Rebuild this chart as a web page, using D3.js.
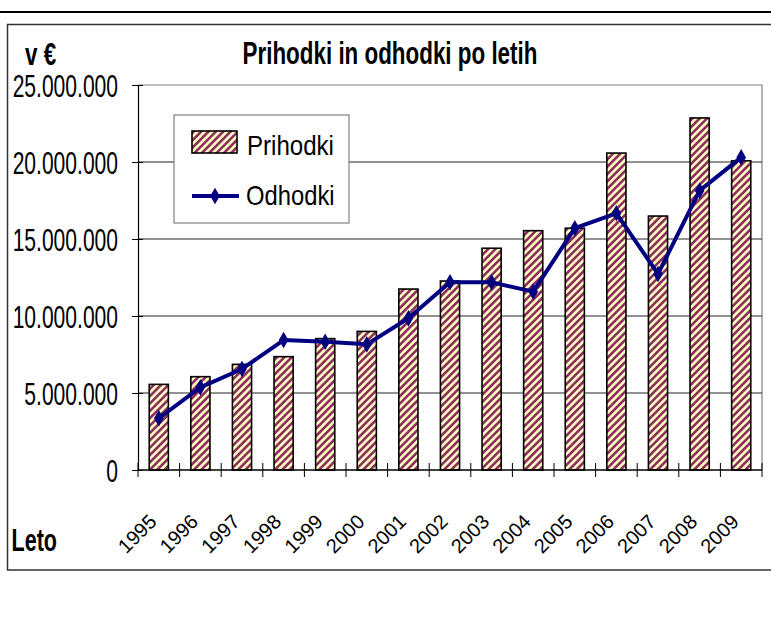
<!DOCTYPE html>
<html>
<head>
<meta charset="utf-8">
<script src="https://cdn.jsdelivr.net/npm/d3@7"></script>
<style>
  body { margin: 0; background: #fff; }
  text { font-family: "Liberation Sans", Arial, sans-serif; fill: #000; }
</style>
</head>
<body>
<script>
// data
var years = ["1995","1996","1997","1998","1999","2000","2001","2002","2003","2004","2005","2006","2007","2008","2009"];
var prihodki = [5560000, 6060000, 6860000, 7360000, 8530000, 9000000, 11750000, 12270000, 14400000, 15540000, 15700000, 20580000, 16490000, 22860000, 20080000];
var odhodki = [3360000, 5370000, 6560000, 8440000, 8330000, 8160000, 9850000, 12190000, 12190000, 11580000, 15700000, 16670000, 12730000, 18140000, 20300000];
var yTicks = [0, 5000000, 10000000, 15000000, 20000000, 25000000];

var width = 771,
    height = 618;

var plotLeft = 138, plotRight = 762, plotTop = 85, plotBottom = 470;

var svg = d3.select("body").append("svg")
    .attr("width", width)
    .attr("height", height);

var defs = svg.append("defs");
var pat = defs.append("pattern")
    .attr("id", "stripes")
    .attr("patternUnits", "userSpaceOnUse")
    .attr("width", 5.2)
    .attr("height", 5.2)
    .attr("patternTransform", "rotate(45)");
pat.append("rect").attr("width", 5.2).attr("height", 5.2).attr("fill", "#ffffc2");
pat.append("rect").attr("width", 2.6).attr("height", 5.2).attr("fill", "#8f2f60");

var loc = d3.formatLocale({decimal: ",", thousands: ".", grouping: [3], currency: ["", "€"]});
var fmt = loc.format(",");

// page lines + frame
svg.append("line").attr("x1", 0).attr("x2", width).attr("y1", 12).attr("y2", 12)
    .attr("stroke", "#000").attr("stroke-width", 2);
svg.append("path").attr("d", "M" + width + ",24.5H7.5V570H" + width)
    .attr("fill", "none").attr("stroke", "#333").attr("stroke-width", 1.5);

var x = d3.scaleBand().domain(years).range([plotLeft, plotRight]).paddingInner(0.54).paddingOuter(0.27);
var y = d3.scaleLinear().domain([0, 25000000]).range([plotBottom, plotTop]);

// plot border (top/right)
svg.append("path").attr("d", "M" + plotLeft + "," + plotTop + "H" + plotRight + "V" + plotBottom)
    .attr("fill", "none").attr("stroke", "#808080").attr("stroke-width", 1.2);

// gridlines
svg.append("g").selectAll("line")
    .data(yTicks.filter(function(d) { return d > 0 && d < 25000000; }))
    .enter().append("line")
    .attr("x1", plotLeft).attr("x2", plotRight)
    .attr("y1", function(d) { return y(d); }).attr("y2", function(d) { return y(d); })
    .attr("stroke", "#222").attr("stroke-width", 1);

// bars
svg.append("g").selectAll("rect")
    .data(years)
    .enter().append("rect")
    .attr("x", function(d) { return x(d); })
    .attr("width", x.bandwidth())
    .attr("y", function(d, i) { return y(prihodki[i]); })
    .attr("height", function(d, i) { return plotBottom - y(prihodki[i]); })
    .attr("fill", "url(#stripes)")
    .attr("stroke", "#000").attr("stroke-width", 1.6);

// y axis
var yAxis = svg.append("g")
    .attr("transform", "translate(" + plotLeft + ",0)")
    .call(d3.axisLeft(y).tickValues(yTicks).tickFormat(fmt).tickSize(6));
yAxis.select(".domain").attr("stroke", "#000").attr("stroke-width", 1.2);
yAxis.selectAll(".tick line").attr("x2", -6).attr("x1", 5).attr("stroke", "#000");
yAxis.selectAll(".tick text")
    .attr("x", 0)
    .attr("dy", null)
    .attr("font-size", 26)
    .attr("font-family", null)
    .attr("transform", "translate(-20,11) scale(0.81,1.22)")
    .attr("fill", "#000");

// x axis
var bounds = d3.range(years.length + 1).map(function(i) { return plotLeft + i * x.step(); });
svg.append("line").attr("x1", plotLeft).attr("x2", plotRight).attr("y1", plotBottom).attr("y2", plotBottom)
    .attr("stroke", "#000").attr("stroke-width", 1.5);
svg.append("g").selectAll("line")
    .data(bounds)
    .enter().append("line")
    .attr("x1", function(d) { return d; }).attr("x2", function(d) { return d; })
    .attr("y1", plotBottom - 7).attr("y2", plotBottom + 7)
    .attr("stroke", "#000");

svg.append("g").selectAll("text")
    .data(years)
    .enter().append("text")
    .attr("transform", function(d) {
        return "translate(" + (x(d) + x.bandwidth() / 2 - 1) + ",523) rotate(-45)";
    })
    .attr("text-anchor", "end")
    .attr("font-size", 20)
    .text(function(d) { return d; });

// odhodki line
var line = d3.line()
    .x(function(d, i) { return x(years[i]) + x.bandwidth() / 2; })
    .y(function(d) { return y(d); });
svg.append("path").datum(odhodki)
    .attr("d", line)
    .attr("fill", "none").attr("stroke", "#000080").attr("stroke-width", 4)
    .attr("stroke-linejoin", "round");
var diamond = d3.symbol().type(d3.symbolDiamond).size(80);
svg.append("g").selectAll("path")
    .data(odhodki)
    .enter().append("path")
    .attr("d", diamond)
    .attr("transform", function(d, i) {
        return "translate(" + (x(years[i]) + x.bandwidth() / 2) + "," + y(d) + ")";
    })
    .attr("fill", "#000080");

// legend
var lg = svg.append("g");
lg.append("rect").attr("x", 174).attr("y", 115).attr("width", 175).attr("height", 108)
    .attr("fill", "#fff").attr("stroke", "#808080").attr("stroke-width", 1.2);
lg.append("rect").attr("x", 192).attr("y", 131).attr("width", 45).attr("height", 22)
    .attr("fill", "url(#stripes)").attr("stroke", "#000").attr("stroke-width", 1.6);
lg.append("text").attr("transform", "translate(247,154.5) scale(0.86,1.01)")
    .attr("font-size", 28).text("Prihodki");
lg.append("line").attr("x1", 192).attr("x2", 239).attr("y1", 196).attr("y2", 196)
    .attr("stroke", "#000080").attr("stroke-width", 4);
lg.append("path").attr("d", diamond).attr("transform", "translate(215,196)").attr("fill", "#000080");
lg.append("text").attr("transform", "translate(246,204.5) scale(0.85,1.01)")
    .attr("font-size", 28).text("Odhodki");

// titles
svg.append("text").attr("transform", "translate(390,63.5) scale(0.80,1.13)")
    .attr("text-anchor", "middle").attr("font-size", 28).attr("font-weight", "bold")
    .text("Prihodki in odhodki po letih");
svg.append("text").attr("transform", "translate(25,65) scale(0.80,1.12)")
    .attr("font-size", 28).attr("font-weight", "bold").text("v €");
svg.append("text").attr("transform", "translate(11.5,550.5) scale(0.77,1.11)")
    .attr("font-size", 28).attr("font-weight", "bold").text("Leto");
</script>
</body>
</html>
